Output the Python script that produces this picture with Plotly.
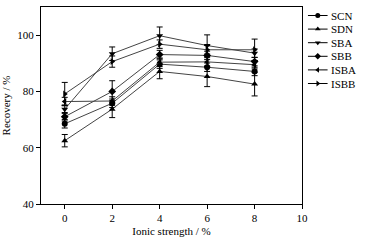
import plotly.graph_objects as go

x_vals = [0, 2, 4, 6, 8]

series_names = ["SCN", "SDN", "SBA", "SBB", "ISBA", "ISBB"]
scn = [68.5, 75.8, 89.7, 88.6, 87.1]
sdn = [62.5, 73.7, 87.1, 85.3, 82.6]
sba = [73.7, 93.4, 99.8, 96.3, 93.6]
sbb = [71.0, 80.0, 93.1, 92.8, 90.6]
isba = [76.4, 76.6, 90.4, 90.5, 89.5]
isbb = [79.1, 90.6, 96.8, 94.8, 94.8]

scn_err = [1.5, 1.5, 1.5, 1.5, 1.5]
sdn_err = [2.2, 3.0, 2.6, 3.6, 4.2]
sba_err = [1.5, 2.4, 3.1, 3.8, 1.5]
sbb_err = [1.5, 3.8, 1.5, 1.5, 1.5]
isba_err = [1.5, 1.5, 1.5, 1.5, 1.5]
isbb_err = [4.1, 2.0, 1.5, 1.5, 3.8]

x_ticks = [0, 2, 4, 6, 8, 10]
y_ticks = [40, 60, 80, 100]

symbols = ["circle", "triangle-up", "triangle-down", "diamond", "triangle-left", "triangle-right"]
values = [scn, sdn, sba, sbb, isba, isbb]
errors = [scn_err, sdn_err, sba_err, sbb_err, isba_err, isbb_err]

font_family = "Liberation Serif, Times New Roman, serif"
W, H = 365, 240
ml, mr, mt, mb = 41, 0, 7, 36
plot_w = W - ml - mr
plot_right_px = 307

fig = go.Figure()
for name, ys, err, sym in zip(series_names, values, errors, symbols):
    fig.add_trace(go.Scatter(
        x=x_vals, y=ys, name=name, mode="lines+markers", showlegend=False,
        line=dict(color="#444444", width=1),
        marker=dict(symbol=sym, size=6, color="black"),
        error_y=dict(type="data", array=err, visible=True, color="black", thickness=1, width=3),
    ))

# manual legend on a helper axis (pixel-like coordinates)
annotations = []
for i, (name, sym) in enumerate(zip(series_names, symbols)):
    ly = 15.5 + 13.6 * i
    fig.add_trace(go.Scatter(
        x=[3, 23], y=[ly, ly], mode="lines", showlegend=False, hoverinfo="skip",
        line=dict(color="black", width=1), xaxis="x2", yaxis="y2"))
    fig.add_trace(go.Scatter(
        x=[13], y=[ly], mode="markers", showlegend=False, hoverinfo="skip",
        marker=dict(symbol=sym, size=5, color="black"), xaxis="x2", yaxis="y2"))
    annotations.append(dict(x=24, y=ly, xref="x2", yref="y2", text=name,
                            showarrow=False, xanchor="left", yanchor="middle",
                            font=dict(size=11, family=font_family, color="black")))

fig.update_layout(
    width=W, height=H,
    margin=dict(l=ml, r=mr, t=mt, b=mb),
    paper_bgcolor="white", plot_bgcolor="white",
    font=dict(family=font_family, size=11, color="black"),
    showlegend=False,
    annotations=annotations,
    xaxis=dict(domain=[0, (plot_right_px - ml) / plot_w], range=[-1, 10], tickvals=x_ticks,
               showline=True, linecolor="black", linewidth=1, mirror=True,
               ticks="outside", ticklen=4, tickcolor="black", showgrid=False, zeroline=False,
               title=dict(text="Ionic strength / %", font=dict(size=11), standoff=4),
               tickfont=dict(size=11)),
    yaxis=dict(range=[40, 110], tickvals=y_ticks,
               showline=True, linecolor="black", linewidth=1, mirror=True,
               ticks="outside", ticklen=4, tickcolor="black", showgrid=False, zeroline=False,
               title=dict(text="Recovery / %", font=dict(size=11), standoff=8),
               tickfont=dict(size=11)),
    xaxis2=dict(domain=[(310 - ml) / plot_w, 1], range=[0, W - 310], visible=False,
                fixedrange=True),
    yaxis2=dict(domain=[0, 1], range=[H - mb, mt], visible=False, anchor="x2",
                fixedrange=True),
)

fig.write_html("out.html", config={"displayModeBar": False},
               post_script="document.body.style.margin='0';")
